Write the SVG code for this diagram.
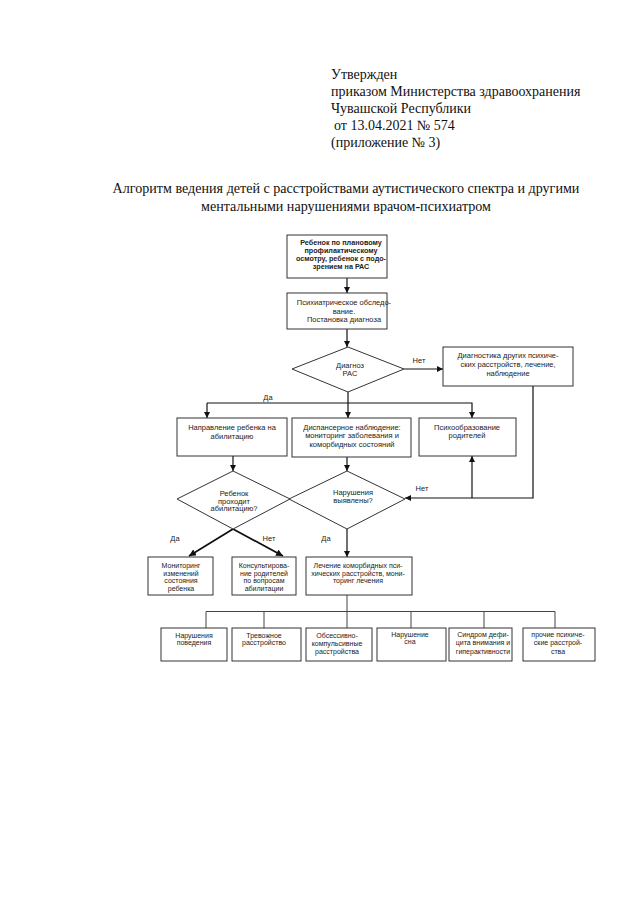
<svg xmlns="http://www.w3.org/2000/svg" width="640" height="904" viewBox="0 0 640 904">
<style>
.hd{font-family:"Liberation Serif","Times New Roman",serif;font-size:14px;fill:#111}
.tt{font-family:"Liberation Serif","Times New Roman",serif;font-size:14.1px;fill:#111;text-anchor:middle}
.t{font-family:"Liberation Sans",Arial,sans-serif;font-size:7.5px;fill:#222;text-anchor:middle}
.s{font-family:"Liberation Sans",Arial,sans-serif;font-size:7px;fill:#222;text-anchor:middle}
.b{font-weight:bold;font-size:7.2px}
.box{fill:#fff;stroke:#333;stroke-width:1}
.ln{fill:none;stroke:#111;stroke-width:1.2}
.thk{fill:none;stroke:#111;stroke-width:1.8}
.gl{fill:none;stroke:#444;stroke-width:1}
</style>
<defs>
<marker id="ar" viewBox="0 0 10 10" refX="10" refY="5" markerWidth="6" markerHeight="6" markerUnits="userSpaceOnUse" orient="auto">
<path d="M0,0 L10,5 L0,10 z" fill="#111"/>
</marker>
<marker id="arb" viewBox="0 0 10 10" refX="10" refY="5" markerWidth="7" markerHeight="7" markerUnits="userSpaceOnUse" orient="auto">
<path d="M0,0 L10,5 L0,10 z" fill="#111"/>
</marker>
</defs>
<rect width="640" height="904" fill="#fff"/>

<g id="header">
<text class="hd" x="331" y="79">Утвержден</text>
<text class="hd" x="331" y="96">приказом Министерства здравоохранения</text>
<text class="hd" x="331" y="113">Чувашской Республики</text>
<text class="hd" x="334" y="130">от 13.04.2021 № 574</text>
<text class="hd" x="331" y="147">(приложение № 3)</text>
</g>
<g id="title">
<text class="tt" x="346" y="193">Алгоритм ведения детей с расстройствами аутистического спектра и другими</text>
<text class="tt" x="346" y="211">ментальными нарушениями врачом-психиатром</text>
</g>

<g id="connectors">
<path class="ln" d="M347,278 V293" marker-end="url(#ar)"/>
<path class="ln" d="M347,329 V347" marker-end="url(#ar)"/>
<path class="ln" d="M404,369 H443" marker-end="url(#ar)"/>
<path class="ln" d="M348,392 V418" marker-end="url(#ar)"/>
<path class="ln" d="M207,403 H472 V418" marker-end="url(#ar)"/>
<path class="ln" d="M207,403 V418" marker-end="url(#ar)"/>
<path class="ln" d="M233,456 V471" marker-end="url(#ar)"/>
<path class="ln" d="M347,457 V471" marker-end="url(#ar)"/>
<path class="ln" d="M533,386 V498 H405" marker-end="url(#ar)"/>
<path class="ln" d="M472,498 V456" marker-end="url(#ar)"/>
<path class="thk" d="M233,529 L189,556" marker-end="url(#arb)"/>
<path class="thk" d="M233,529 L283,556" marker-end="url(#arb)"/>
<path class="ln" d="M347,529 V557" marker-end="url(#ar)"/>
<path class="gl" d="M347,595 V628"/>
<path class="gl" d="M206,628 V611.5 H555 V628"/>
<path class="gl" d="M264,611.5 V628"/>
<path class="gl" d="M411,611.5 V628"/>
<path class="gl" d="M484,611.5 V628"/>
</g>

<g id="n_start">
<rect class="box" x="287" y="235" width="100" height="43"/>
<text class="t b" x="341" y="244.5">Ребенок по плановому</text>
<text class="t b" x="341" y="252.5">профилактическому</text>
<text class="t b" x="341" y="260.5">осмотру, ребенок с подо-</text>
<text class="t b" x="341" y="268.5">зрением на РАС</text>
</g>
<g id="n_exam">
<rect class="box" x="287" y="293" width="100" height="36"/>
<text class="t" x="344" y="304.5">Психиатрическое обследо-</text>
<text class="t" x="344" y="313.5">вание.</text>
<text class="t" x="344" y="322">Постановка диагноза</text>
</g>
<g id="n_dx">
<polygon class="box" points="348,347 404,369 348,392 292,369"/>
<text class="t" x="350" y="367.5">Диагноз</text>
<text class="t" x="350" y="375.5">РАС</text>
</g>
<g id="n_other">
<rect class="box" x="443" y="347" width="130" height="39"/>
<text class="t" x="508" y="357.5">Диагностика других психиче-</text>
<text class="t" x="508" y="366.5">ских расстройств, лечение,</text>
<text class="t" x="508" y="375.5">наблюдение</text>
</g>
<g id="n_habil">
<rect class="box" x="177" y="418" width="110" height="38"/>
<text class="t" x="232" y="429.5">Направление ребенка на</text>
<text class="t" x="232" y="438.5">абилитацию</text>
</g>
<g id="n_disp">
<rect class="box" x="292" y="418" width="119" height="39"/>
<text class="t" x="352" y="429.5">Диспансерное наблюдение:</text>
<text class="t" x="352" y="438">мониторинг заболевания и</text>
<text class="t" x="352" y="446.5">коморбидных состояний</text>
</g>
<g id="n_psyedu">
<rect class="box" x="419" y="418" width="97" height="38"/>
<text class="t" x="467" y="429.5">Психообразование</text>
<text class="t" x="467" y="438">родителей</text>
</g>
<g id="n_q1">
<polygon class="box" points="233,471 290,499 233,529 177,499" fill="none"/>
<text class="t" x="234" y="495.5">Ребенок</text>
<text class="t" x="234" y="503.5">проходит</text>
<text class="t" x="234" y="511">абилитацию?</text>
</g>
<g id="n_q2">
<polygon class="box" points="347,471 405,499 347,529 289,499" fill="none"/>
<text class="t" x="353" y="494.5">Нарушения</text>
<text class="t" x="353" y="502.5">выявлены?</text>
</g>
<g id="labels">
<text class="t" x="419" y="362.5">Нет</text>
<text class="t" x="268" y="399.5">Да</text>
<text class="t" x="422" y="490.5">Нет</text>
<text class="t" x="175" y="540.5">Да</text>
<text class="t" x="269" y="540.5">Нет</text>
<text class="t" x="326" y="540.5">Да</text>
</g>
<g id="n_monitor">
<rect class="box" x="148" y="557" width="65" height="38"/>
<text class="s" x="181" y="567.5">Мониторинг</text>
<text class="s" x="181" y="575.5">изменений</text>
<text class="s" x="181" y="582.5">состояния</text>
<text class="s" x="181" y="590.5">ребенка</text>
</g>
<g id="n_consult">
<rect class="box" x="232" y="557" width="64" height="38"/>
<text class="s" x="264" y="567.5">Консультирова-</text>
<text class="s" x="264" y="575.5">ние родителей</text>
<text class="s" x="264" y="582.5">по вопросам</text>
<text class="s" x="264" y="590.5">абилитации</text>
</g>
<g id="n_treat">
<rect class="box" x="306" y="557" width="106" height="38"/>
<text class="s" x="358" y="567.5">Лечение коморбидных пси-</text>
<text class="s" x="358" y="575.5">хических расстройств, мони-</text>
<text class="s" x="358" y="582.5">торинг лечения</text>
</g>
<g id="n_b1">
<rect class="box" x="161" y="628" width="66" height="33"/>
<text class="s" x="194" y="638">Нарушения</text>
<text class="s" x="194" y="645">поведения</text>
</g>
<g id="n_b2">
<rect class="box" x="232" y="628" width="69" height="33"/>
<text class="s" x="264" y="638">Тревожное</text>
<text class="s" x="264" y="645">расстройство</text>
</g>
<g id="n_b3">
<rect class="box" x="306" y="628" width="66" height="33"/>
<text class="s" x="337" y="638">Обсессивно-</text>
<text class="s" x="337" y="645.5">компульсивные</text>
<text class="s" x="337" y="653.5">расстройства</text>
</g>
<g id="n_b4">
<rect class="box" x="377" y="628" width="69" height="33"/>
<text class="s" x="410" y="636.5">Нарушение</text>
<text class="s" x="410" y="644">сна</text>
</g>
<g id="n_b5">
<rect class="box" x="449" y="628" width="63" height="33"/>
<text class="s" x="483" y="636.5">Синдром дефи-</text>
<text class="s" x="483" y="644.5">цита внимания и</text>
<text class="s" x="483" y="654">гиперактивности</text>
</g>
<g id="n_b6">
<rect class="box" x="523" y="628" width="72" height="33"/>
<text class="s" x="558" y="636.5">прочие психиче-</text>
<text class="s" x="558" y="644.5">ские расстрой-</text>
<text class="s" x="558" y="654">ства</text>
</g>
</svg>
